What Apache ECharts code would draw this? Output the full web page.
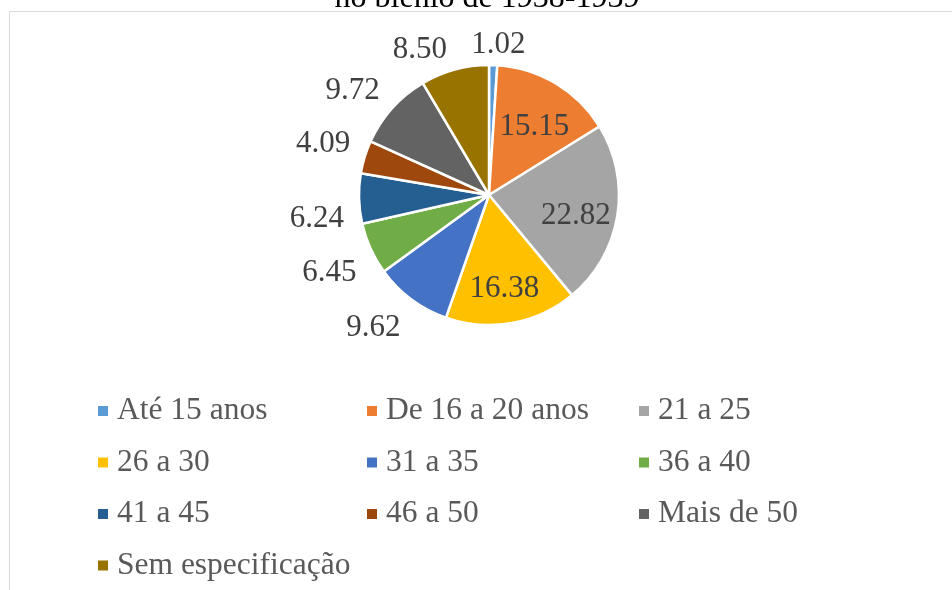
<!DOCTYPE html>
<html><head><meta charset="utf-8">
<script src="https://cdn.jsdelivr.net/npm/echarts@6/dist/echarts.min.js"></script>
<style>html,body{margin:0;padding:0;background:#fff}#c{width:952px;height:590px}</style>
</head><body><div id="c"></div>
<script>
const titleText = 'no biênio de 1938-1939';
const categories = ['Até 15 anos','De 16 a 20 anos','21 a 25','26 a 30','31 a 35','36 a 40','41 a 45','46 a 50','Mais de 50','Sem especificação'];
const values = [1.02, 15.15, 22.82, 16.38, 9.62, 6.45, 6.24, 4.09, 9.72, 8.50];
const colors = ['#5B9BD5','#ED7D31','#A5A5A5','#FFC000','#4472C4','#70AD47','#255E91','#9E480E','#636363','#997300'];
const legendColumns = [[0,3,6,9],[1,4,7],[2,5,8]];

const FONT = '"Liberation Serif", "Times New Roman", serif';
const CX = 489, CY = 195, R = 130;
const insideThreshold = 10;

const chart = echarts.init(document.getElementById('c'), null, {renderer: 'canvas'});
const fmt = p => Number(p.value).toFixed(2);

const mainData = categories.map((n, i) => ({
  name: n, value: values[i],
  itemStyle: {color: colors[i]},
  label: {show: values[i] <= insideThreshold}
}));
const overlayData = categories.map((n, i) => ({
  name: n, value: values[i],
  label: {show: values[i] > insideThreshold}
}));

const legendLefts = [96, 365, 637];
const legends = legendColumns.map((col, k) => ({
  orient: 'vertical',
  left: legendLefts[k], top: 395,
  width: 260, height: 195,
  padding: 0,
  itemGap: 19.5, itemWidth: 12, itemHeight: 12,
  icon: 'rect',
  selectedMode: false,
  data: col.map(i => categories[i]),
  textStyle: {fontFamily: FONT, fontSize: 31.5, color: '#595959', lineHeight: 30, padding: [0,0,0,3]}
}));

chart.setOption({
  animation: false,
  backgroundColor: '#ffffff',
  color: colors,
  legend: legends,
  graphic: [
    {type: 'rect', silent: true, z: -10, shape: {x: 9.5, y: 11.5, width: 1000, height: 700},
     style: {fill: 'none', stroke: '#d9d9d9', lineWidth: 1}},
    {type: 'text', silent: true, x: 487, y: 15,
     style: {text: titleText, font: '32px ' + FONT, fill: '#000', align: 'center', verticalAlign: 'bottom'}}
  ],
  series: [
    {
      type: 'pie', name: 'main',
      center: [CX, CY], radius: R,
      startAngle: 90, clockwise: true,
      itemStyle: {borderColor: '#fff', borderWidth: 2.5},
      label: {position: 'outside', formatter: fmt, fontFamily: FONT, fontSize: 31, color: '#404040'},
      labelLine: {show: false, length: 10, length2: 0},
      labelLayout: function (p) {
        const r = p.labelRect;
        const cyl = r.y + r.height / 2;
        const anchorX = p.align === 'left' ? r.x : (p.align === 'right' ? r.x + r.width : r.x + r.width / 2);
        const out = {verticalAlign: cyl < CY ? 'bottom' : 'top', dy: 5};
        if (Math.abs(anchorX - CX) < 20) out.align = 'center';
        return out;
      },
      emphasis: {disabled: true},
      data: mainData
    },
    {
      type: 'pie', name: 'overlay', silent: true,
      center: [CX, CY], radius: 170,
      startAngle: 90, clockwise: true,
      itemStyle: {color: 'rgba(0,0,0,0)', borderWidth: 0},
      label: {position: 'inside', formatter: fmt, fontFamily: FONT, fontSize: 31, color: '#404040'},
      labelLine: {show: false},
      labelLayout: function () { return {dy: 7}; },
      emphasis: {disabled: true},
      data: overlayData
    }
  ]
});
</script>
</body></html>
